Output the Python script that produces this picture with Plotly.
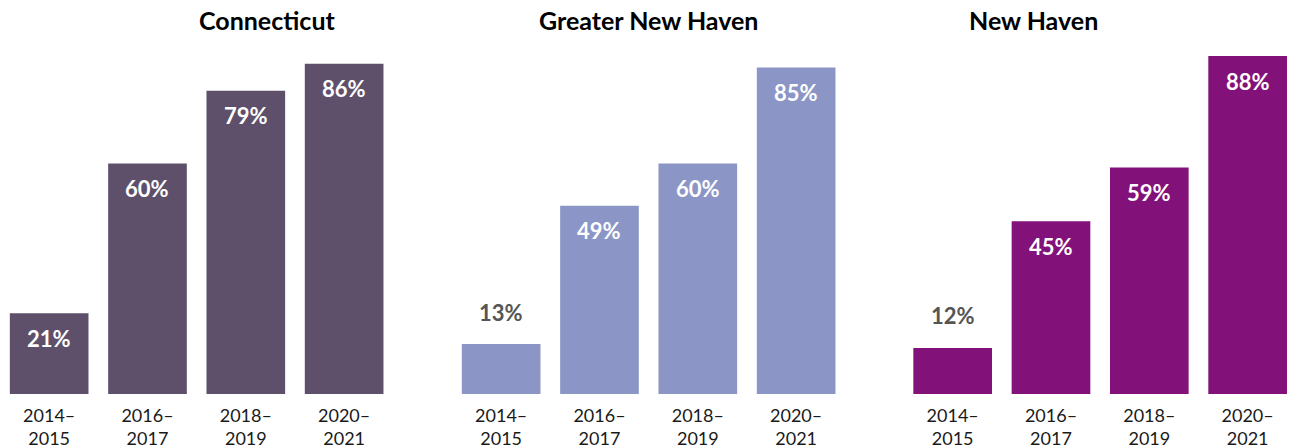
import plotly.graph_objects as go

periods = ["2014–<br>2015", "2016–<br>2017", "2018–<br>2019", "2020–<br>2021"]
regions = ["Connecticut", "Greater New Haven", "New Haven"]
ct_values = [21, 60, 79, 86]
gnh_values = [13, 49, 60, 85]
nh_values = [12, 45, 59, 88]
series = [ct_values, gnh_values, nh_values]
colors = ["#5e506a", "#8b96c6", "#82117a"]

W, H = 1289, 448
T, B = 10, 54
plot_h = H - T - B
domains_px = [(0, 393.3), (452, 845.3), (903.5, 1289)]
full_width = 393.3
pitch = full_width / 4

fig = go.Figure()
annotations = []
for i, (name, vals, col) in enumerate(zip(regions, series, colors)):
    ax = "" if i == 0 else str(i + 1)
    fig.add_trace(go.Bar(
        x=periods, y=vals, marker=dict(color=col, line=dict(width=0)),
        xaxis="x" + ax, yaxis="y" + ax, showlegend=False, hoverinfo="skip"))
    d0, d1 = domains_px[i]
    width = d1 - d0
    hi = -0.5 + width / pitch
    fig.update_layout(**{
        "xaxis" + ax: dict(domain=[d0 / W, d1 / W], type="category",
                           range=[-0.5, hi], showgrid=False, zeroline=False,
                           showline=False, ticks="", anchor="y" + ax,
                           tickfont=dict(family="Lato", size=18, color="#1a1a1a"),
                           ticklabelstandoff=9, automargin=False, fixedrange=True),
        "yaxis" + ax: dict(range=[0, 100], visible=False, anchor="x" + ax,
                           automargin=False, fixedrange=True),
    })
    for p, v in zip(periods, vals):
        inside = v >= 20
        annotations.append(dict(
            x=p, y=v, xref="x" + ax, yref="y" + ax, text=f"<b>{v}%</b>",
            showarrow=False, yshift=-25 if inside else 32,
            font=dict(family="Lato", size=22, color="white" if inside else "#555555"),
        ))
    annotations.append(dict(
        x=(d0 + d0 + full_width) / 2 / W,
        y=1 - (20 - T) / plot_h, xref="paper", yref="paper", yanchor="middle",
        text=f"<b>{name}</b>", showarrow=False,
        font=dict(family="Lato", size=25, color="#000000")))

fig.update_layout(
    width=W, height=H, margin=dict(l=0, r=0, t=T, b=B, autoexpand=False),
    paper_bgcolor="white", plot_bgcolor="white", bargap=0.2,
    annotations=annotations,
)
fig.write_html("out.html", config={"displayModeBar": False},
               post_script="document.body.style.margin='0';")
